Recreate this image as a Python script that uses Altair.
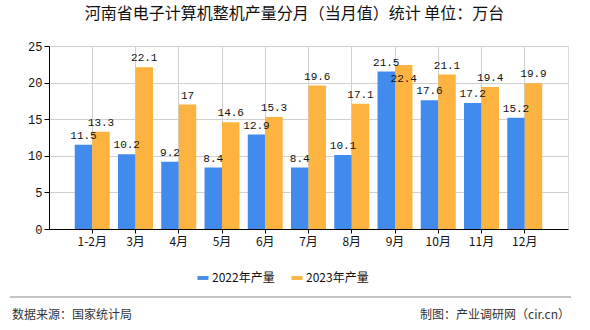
import altair as alt
import pandas as pd

months = ["1-2月", "3月", "4月", "5月", "6月", "7月", "8月", "9月", "10月", "11月", "12月"]
v2022 = [11.5, 10.2, 9.2, 8.4, 12.9, 8.4, 10.1, 21.5, 17.6, 17.2, 15.2]
v2023 = [13.3, 22.1, 17.0, 14.6, 15.3, 19.6, 17.1, 22.4, 21.1, 19.4, 19.9]
series = ["2022年产量", "2023年产量"]
colors = ["#428bee", "#fcb33f"]
title_text = "河南省电子计算机整机产量分月（当月值）统计 单位：万台"
source_text = "数据来源：国家统计局"
maker_text = "制图：产业调研网（cir.cn）"

rows = []
for m, a, b in zip(months, v2022, v2023):
    # simple label collision avoidance: if the two labels would collide,
    # put the second label just below the first one
    b_pos = b if abs(b - a) >= 1.6 else a - 2.2
    rows.append({"month": m, "series": series[0], "value": a, "label": f"{a:g}", "lpos": a})
    rows.append({"month": m, "series": series[1], "value": b, "label": f"{b:g}", "lpos": b_pos})
df = pd.DataFrame(rows)

W, H = 519, 183
PAD = {"left": 49, "top": 46, "right": 22, "bottom": 101}

xaxis = alt.Axis(labelAngle=0, bandPosition=0.5, grid=True, gridColor="#d0d0d0",
                 domainColor="#000", tickColor="#000", tickSize=4,
                 labelFont="Noto Sans CJK SC", labelFontSize=12, labelColor="#111",
                 labelPadding=3)
xscale = alt.Scale(paddingInner=0, paddingOuter=0.5)
yaxis = alt.Axis(values=[0, 5, 10, 15, 20, 25], grid=True, gridColor="#d0d0d0",
                 domainColor="#000", tickColor="#000", tickSize=5, labelOverlap=False,
                 labelFont="Liberation Mono", labelFontSize=12, labelColor="#111",
                 labelPadding=2)
yscale = alt.Scale(domain=[0, 25], nice=False)
xoff = alt.XOffset("series:N", sort=series, scale=alt.Scale(paddingInner=0, paddingOuter=0.236))

base = alt.Chart(df)

bars = base.mark_bar().encode(
    x=alt.X("month:N", sort=months, title=None, scale=xscale, axis=xaxis),
    xOffset=xoff,
    y=alt.Y("value:Q", title=None, scale=yscale, axis=yaxis),
    color=alt.Color("series:N", sort=series, title=None,
                    scale=alt.Scale(domain=series, range=colors),
                    legend=alt.Legend(orient="none", legendX=148, legendY=226, direction="horizontal",
                                      symbolType="M-1,-0.35L1,-0.35L1,0.35L-1,0.35Z",
                                      symbolSize=121, symbolStrokeWidth=0, symbolOpacity=1,
                                      labelFont="Noto Sans CJK SC", labelFontSize=12,
                                      labelColor="#111", columnPadding=16, labelOffset=3)),
)

labels = base.mark_text(baseline="bottom", dy=-4, font="Liberation Mono", fontSize=11, color="#111").encode(
    x=alt.X("month:N", sort=months, title=None, scale=xscale, axis=xaxis),
    xOffset=xoff,
    y=alt.Y("lpos:Q", title=None, scale=yscale, axis=yaxis),
    text="label:N",
)

sep = alt.Chart(pd.DataFrame({"k": [0]})).mark_rule(color="#888", strokeWidth=1).encode(
    x=alt.value(-39), x2=alt.value(522), y=alt.value(251)
)
src = alt.Chart(pd.DataFrame({"t": [source_text]})).mark_text(
    align="left", baseline="middle", font="Noto Sans CJK SC", fontSize=12, color="#333"
).encode(x=alt.value(-37), y=alt.value(269), text="t:N")
mk = alt.Chart(pd.DataFrame({"t": [maker_text]})).mark_text(
    align="right", baseline="middle", font="Noto Sans CJK SC", fontSize=12, color="#333"
).encode(x=alt.value(521), y=alt.value(269), text="t:N")

chart = alt.layer(bars, labels, sep, src, mk).properties(
    width=W, height=H, padding=PAD, autosize=alt.AutoSizeParams(type="none"),
    title=alt.TitleParams(title_text, font="Noto Sans CJK SC", fontSize=16, fontWeight="normal",
                          color="#111", anchor="middle", dx=-14, offset=18),
).configure_view(stroke="#d0d0d0").configure(background="white")

chart.save("out.html", embed_options={"renderer": "svg", "actions": False})
